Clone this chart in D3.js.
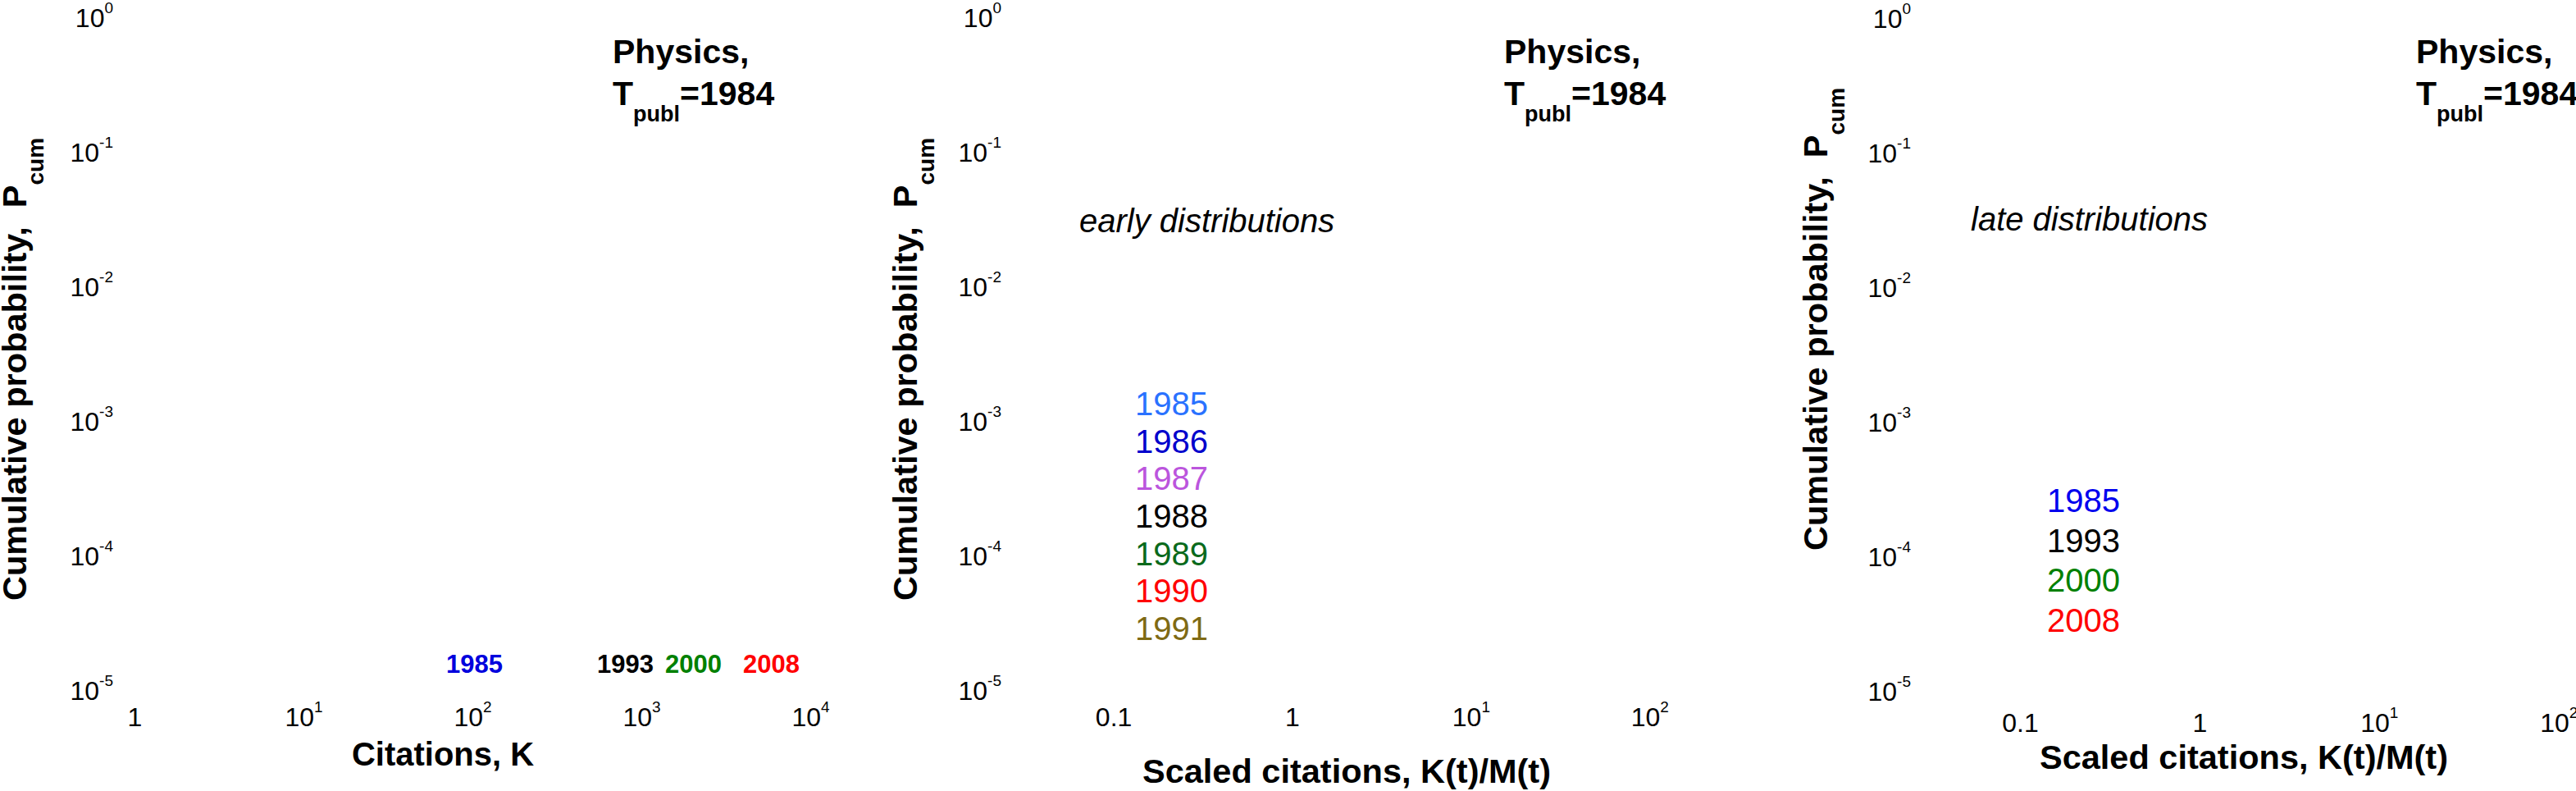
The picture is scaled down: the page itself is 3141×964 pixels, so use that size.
<!DOCTYPE html>
<html>
<head>
<meta charset="utf-8">
<script src="https://cdn.jsdelivr.net/npm/d3@7"></script>
<style>
  html, body { margin: 0; padding: 0; background: #ffffff; }
  svg { display: block; font-family: "Liberation Sans", Arial, Helvetica, sans-serif; }
  text { white-space: pre; }
</style>
</head>
<body>
<svg id="chart" width="3141" height="964"></svg>
<script>
// ---------------- data ----------------
const fieldName = "Physics,";
const publicationYear = 1984;
const yTickValues = [1, 1e-1, 1e-2, 1e-3, 1e-4, 1e-5];
const citationTicks = [1, 10, 100, 1000, 10000];
const scaledTicks = [0.1, 1, 10, 100];
const rawYears = ["1985", "1993", "2000", "2008"];
const rawColors = ["#0000dd", "#000000", "#008000", "#ff0000"];
const earlyYears = ["1985", "1986", "1987", "1988", "1989", "1990", "1991"];
const earlyColors = ["#2a72ff", "#0000cc", "#bb55dd", "#000000", "#0a6a1c", "#ff0000", "#7f6a14"];
const lateYears = ["1985", "1993", "2000", "2008"];
const lateColors = ["#0000ee", "#000000", "#008000", "#ff0000"];
const xTitles = ["Citations, K", "Scaled citations, K(t)/M(t)", "Scaled citations, K(t)/M(t)"];
const yTitleMain = "Cumulative probability,  P";
const yTitleSub = "cum";
const panelNotes = ["", "early distributions", "late distributions"];

// ---------------- layout (positions / styles only) ----------------
const layout = [
  { xDomain: [1, 1e4], xRange: [164, 988], xTicks: citationTicks, xTickY: 885,
    yTickRight: 138, yShift: 0, yTitleX: 32, yTitleBottom: 732,
    xTitleX: 540, xTitleY: 933, xTitleSize: 40, physX: 747,
    noteX: 0, noteY: 0,
    years: rawYears, colors: rawColors, yearBold: true, yearSize: 31,
    yearX: [544, 728, 811, 906], yearY: [820, 820, 820, 820] },
  { xDomain: [0.1, 100], xRange: [1357.6, 2011.3], xTicks: scaledTicks, xTickY: 885,
    yTickRight: 1221, yShift: 0, yTitleX: 1118, yTitleBottom: 732,
    xTitleX: 1642, xTitleY: 954, xTitleSize: 41.5, physX: 1834,
    noteX: 1316, noteY: 283,
    years: earlyYears, colors: earlyColors, yearBold: false, yearSize: 40,
    yearX: [1384, 1384, 1384, 1384, 1384, 1384, 1384], yearY: [506, 552, 597, 643, 689, 734, 780] },
  { xDomain: [0.1, 100], xRange: [2463, 3119.8], xTicks: scaledTicks, xTickY: 892,
    yTickRight: 2330, yShift: 1, yTitleX: 2228, yTitleBottom: 671,
    xTitleX: 2736, xTitleY: 937, xTitleSize: 41.5, physX: 2946,
    noteX: 2403, noteY: 281,
    years: lateYears, colors: lateColors, yearBold: false, yearSize: 40,
    yearX: [2496, 2496, 2496, 2496], yearY: [624, 673, 721, 770] }
];

const TICK_SIZE = 32, SUP_SIZE = 19, SUP_RISE = 17;

const svg = d3.select("#chart");
svg.append("rect").attr("width", 3141).attr("height", 964).attr("fill", "#ffffff");

function fillPowerLabel(textSel, v, plainSmall) {
  const e = Math.round(Math.log10(v));
  textSel.text(null);
  if (plainSmall && e === 0) { textSel.append("tspan").text("1"); return; }
  if (plainSmall && e === -1) { textSel.append("tspan").text("0.1"); return; }
  textSel.append("tspan").text("10");
  textSel.append("tspan").attr("font-size", SUP_SIZE).attr("dy", -SUP_RISE).text(String(e));
}

layout.forEach((p, i) => {
  const g = svg.append("g");
  const x = d3.scaleLog().domain(p.xDomain).range(p.xRange);
  const y = d3.scaleLog().domain([1e-5, 1]).range([841 + p.yShift, 21 + p.yShift]);

  // x axis tick labels (no axis line, no tick marks)
  const gx = g.append("g").attr("transform", `translate(0,${p.xTickY})`)
    .call(d3.axisBottom(x).tickValues(p.xTicks).tickSize(0).tickPadding(0));
  gx.select(".domain").remove();
  gx.attr("font-size", TICK_SIZE).attr("font-family", null);
  gx.selectAll(".tick line").remove();
  gx.selectAll(".tick text")
    .attr("y", 0).attr("dy", 0).attr("fill", "#000")
    .attr("text-anchor", "middle")
    .each(function (d) { fillPowerLabel(d3.select(this), d, true); });

  // y axis tick labels
  const gy = g.append("g").attr("transform", `translate(${p.yTickRight},0)`)
    .call(d3.axisLeft(y).tickValues(yTickValues).tickSize(0).tickPadding(0));
  gy.select(".domain").remove();
  gy.attr("font-size", TICK_SIZE).attr("font-family", null);
  gy.selectAll(".tick line").remove();
  gy.selectAll(".tick text")
    .attr("x", 0).attr("dy", 11).attr("fill", "#000")
    .attr("text-anchor", "end")
    .each(function (d) { fillPowerLabel(d3.select(this), d, false); });

  // y title (rotated)
  const yt = g.append("text")
    .attr("transform", `translate(${p.yTitleX},${p.yTitleBottom}) rotate(-90)`)
    .attr("font-weight", "bold").attr("font-size", 41.5).attr("fill", "#000")
    .attr("text-anchor", "start");
  yt.append("tspan").text(yTitleMain);
  yt.append("tspan").attr("font-size", 28).attr("dy", 21).text(yTitleSub);

  // x title
  g.append("text").attr("x", p.xTitleX).attr("y", p.xTitleY)
    .attr("text-anchor", "middle").attr("font-weight", "bold")
    .attr("font-size", p.xTitleSize).attr("fill", "#000")
    .text(xTitles[i]);

  // field / publication-year annotation
  g.append("text").attr("x", p.physX).attr("y", 77)
    .attr("font-weight", "bold").attr("font-size", 41).attr("fill", "#000")
    .text(fieldName);
  const tp = g.append("text").attr("x", p.physX).attr("y", 128)
    .attr("font-weight", "bold").attr("font-size", 41).attr("fill", "#000");
  tp.append("tspan").text("T");
  tp.append("tspan").attr("font-size", 27).attr("dy", 20).text("publ");
  tp.append("tspan").attr("dy", -20).text("=" + publicationYear);

  // panel note
  if (panelNotes[i]) {
    g.append("text").attr("x", p.noteX).attr("y", p.noteY)
      .attr("font-style", "italic").attr("font-size", 40).attr("fill", "#000")
      .text(panelNotes[i]);
  }

  // year legend labels
  g.selectAll("text.year").data(p.years).join("text")
    .attr("class", "year")
    .attr("x", (d, j) => p.yearX[j])
    .attr("y", (d, j) => p.yearY[j])
    .attr("font-size", p.yearSize)
    .attr("font-weight", p.yearBold ? "bold" : "normal")
    .attr("fill", (d, j) => p.colors[j])
    .text(d => d);
});
</script>
</body>
</html>
